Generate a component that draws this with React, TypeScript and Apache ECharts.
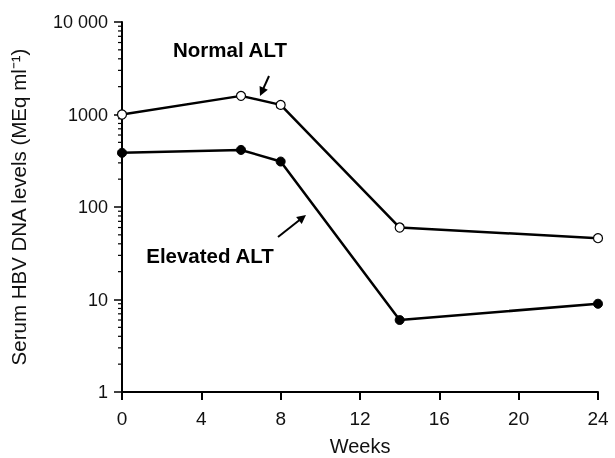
import React, { useEffect, useRef } from "react";
import * as echarts from "echarts";

const weeks = [0, 6, 8, 14, 24];
const normalALT = [1000, 1590, 1270, 60, 46];
const elevatedALT = [385, 414, 310, 6.0, 9.0];
const yMinor = [2, 3, 4, 5, 6, 7, 8, 9, 20, 30, 40, 50, 60, 70, 80, 90, 200, 300, 400, 500, 600, 700, 800, 900, 2000, 3000, 4000, 5000, 6000, 7000, 8000, 9000];

const FONT = "'Liberation Sans', Arial, Helvetica, sans-serif";

function arrow(x1: number, y1: number, x2: number, y2: number) {
  const dx = x2 - x1, dy = y2 - y1;
  const len = Math.sqrt(dx * dx + dy * dy);
  const ux = dx / len, uy = dy / len;
  const hl = 9, hw = 4.5;
  const bx = x2 - ux * hl, by = y2 - uy * hl;
  return [
    { type: "line", shape: { x1, y1, x2: bx + ux * 2, y2: by + uy * 2 }, style: { stroke: "#000", lineWidth: 2 } },
    {
      type: "polygon",
      shape: { points: [[x2, y2], [bx - uy * hw, by + ux * hw], [bx + uy * hw, by - ux * hw]] },
      style: { fill: "#000" },
    },
  ];
}

export default function App() {
  const ref = useRef<HTMLDivElement>(null);
  useEffect(() => {
    if (!ref.current) return;
    const chart = echarts.init(ref.current, null, { renderer: "svg" });
    chart.setOption({
      animation: false,
      textStyle: { fontFamily: FONT },
      grid: { left: 122, right: 17, top: 22, bottom: 66, outerBoundsMode: "none", containLabel: false },
      xAxis: {
        type: "value",
        min: 0,
        max: 24,
        interval: 4,
        name: "Weeks",
        nameLocation: "middle",
        nameGap: 44,
        nameTextStyle: { fontSize: 20, color: "#111", fontFamily: FONT },
        axisLine: { lineStyle: { color: "#000", width: 2 } },
        axisTick: { show: true, length: 8, lineStyle: { color: "#000", width: 2 } },
        axisLabel: { fontSize: 19, color: "#111", margin: 17, fontFamily: FONT },
        splitLine: { show: false },
      },
      yAxis: {
        type: "log",
        logBase: 10,
        min: 1,
        max: 10000,
        name: "Serum HBV DNA levels (MEq ml\u207B\u00B9)",
        nameLocation: "middle",
        nameGap: 93,
        nameTextStyle: { fontSize: 20.5, color: "#111", fontFamily: FONT },
        axisLine: { show: true, lineStyle: { color: "#000", width: 2 } },
        axisTick: { show: true, length: 8, lineStyle: { color: "#000", width: 1.5 } },
        axisLabel: {
          fontSize: 18,
          color: "#111",
          margin: 14,
          fontFamily: FONT,
          formatter: (v: number) => (v >= 10000 ? "10 000" : String(v)),
        },
        splitLine: { show: false },
      },
      series: [
        {
          type: "custom",
          silent: true,
          clip: false,
          data: yMinor.map((v) => [0, v]),
          renderItem: (params: any, api: any) => {
            const p = api.coord([0, api.value(1)]);
            return {
              type: "line",
              shape: { x1: p[0] - 4, y1: p[1], x2: p[0], y2: p[1] },
              style: { stroke: "#000", lineWidth: 1.2 },
            };
          },
          z: 1,
        },
        {
          name: "Normal ALT",
          type: "line",
          data: weeks.map((w, i) => [w, normalALT[i]]),
          symbol: "circle",
          symbolSize: 9,
          lineStyle: { color: "#000", width: 2.5 },
          itemStyle: { color: "#fff", borderColor: "#000", borderWidth: 1.2 },
          clip: false,
          z: 3,
        },
        {
          name: "Elevated ALT",
          type: "line",
          data: weeks.map((w, i) => [w, elevatedALT[i]]),
          symbol: "circle",
          symbolSize: 9,
          lineStyle: { color: "#000", width: 2.5 },
          itemStyle: { color: "#000", borderColor: "#000", borderWidth: 1 },
          clip: false,
          z: 3,
        },
      ],
      graphic: [
        {
          type: "text",
          x: 230,
          y: 49,
          style: { text: "Normal ALT", font: `bold 20.5px ${FONT}`, fill: "#000", align: "center", verticalAlign: "middle" },
        },
        {
          type: "text",
          x: 210,
          y: 255,
          style: { text: "Elevated ALT", font: `bold 20.5px ${FONT}`, fill: "#000", align: "center", verticalAlign: "middle" },
        },
        ...arrow(269, 76, 260, 96),
        ...arrow(278, 237, 306, 215),
      ],
    });
    return () => chart.dispose();
  }, []);
  return <div ref={ref} style={{ position: "fixed", left: 0, top: 0, width: 615, height: 458 }} />;
}
